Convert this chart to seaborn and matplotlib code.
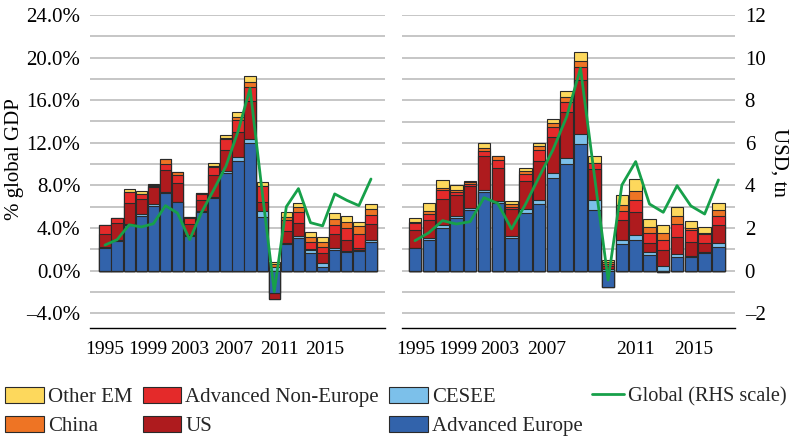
import numpy as np
import pandas as pd
import matplotlib
matplotlib.use('Agg')
import matplotlib.pyplot as plt
from matplotlib.patches import Patch
from matplotlib.lines import Line2D
from matplotlib.ticker import MultipleLocator, FuncFormatter
import seaborn as sns

# -------------------------------------------
# данные (1995-2017)
years = list(range(1995, 2018))

# левая панель, % мирового ВВП
adv_eu_pct = [2.16, 2.78, 4.32, 5.13, 6.1, 7.29, 6.41, 3.25, 5.48, 6.79, 9.14, 10.33,
              11.95, 5.0, -2.13, 2.5, 3.07, 1.63, 0.38, 1.94, 1.78, 1.85, 2.7]
cesee_pct = [0.05, 0.05, 0.1, 0.15, 0.15, 0.05, 0.05, 0.05, 0.15, 0.1, 0.2, 0.37,
             0.44, 0.63, 0.3, 0.1, 0.19, 0.31, 0.38, 0.22, 0.1, 0.1, 0.15]
us_pct = [1.2, 1.6, 1.94, 1.4, 1.56, 2.1, 1.78, 1.1, 0.97, 2.1, 2.0, 2.35,
          3.57, 0.85, -0.56, 1.16, 1.25, 0.1, 0.88, 1.25, 1.0, 0.2, 1.5]
adv_ne_pct = [0.85, 0.5, 1.0, 0.5, 0.15, 0.56, 0.78, 0.53, 0.6, 0.78, 1.0, 1.1,
              1.31, 1.47, 0.0, 1.0, 1.03, 0.63, 0.56, 0.88, 1.1, 1.3, 0.9]
china_pct = [0.05, 0.05, 0.05, 0.05, 0.1, 0.44, 0.2, 0.06, 0.12, 0.05, 0.1, 0.3,
             0.4, 0.0, 0.3, 0.25, 0.4, 0.53, 0.5, 0.53, 0.56, 0.75, 0.5]
other_em_pct = [0.0, 0.0, 0.25, 0.25, 0.1, 0.0, 0.0, 0.0, 0.0, 0.3, 0.3, 0.44,
                0.63, 0.38, 0.2, 0.5, 0.38, 0.47, 0.5, 0.63, 0.6, 0.4, 0.5]
global_pct = [2.4, 2.9, 4.3, 4.1, 4.4, 6.1, 5.4, 2.9, 5.5, 7.6, 9.8, 13.05,
              17.1, 7.4, -1.97, 6.0, 7.7, 4.5, 4.2, 7.2, 6.6, 6.1, 8.6]

# правая панель, трлн долл. США
adv_eu_usd = [1.05, 1.44, 1.99, 2.46, 2.85, 3.71, 3.19, 1.55, 2.72, 3.13, 4.33, 5.0,
              5.95, 2.85, -0.78, 1.24, 1.44, 0.74, -0.05, 0.66, 0.66, 0.81, 1.1]
cesee_usd = [0.03, 0.08, 0.16, 0.11, 0.09, 0.08, 0.08, 0.08, 0.16, 0.19, 0.27, 0.27,
             0.47, 0.47, 0.1, 0.2, 0.23, 0.16, 0.22, 0.11, 0.03, 0.05, 0.19]
us_usd = [0.83, 0.86, 1.2, 0.99, 1.05, 1.61, 1.56, 1.25, 1.35, 1.83, 1.69, 2.19,
          2.54, 1.44, 0.1, 0.94, 1.1, 0.39, 0.75, 0.83, 0.64, 0.42, 0.86]
adv_ne_usd = [0.31, 0.28, 0.44, 0.11, 0.08, 0.23, 0.36, 0.13, 0.3, 0.52, 0.44, 0.47,
              0.59, 0.28, 0.1, 0.42, 0.55, 0.47, 0.47, 0.58, 0.58, 0.44, 0.42]
china_usd = [0.05, 0.16, 0.08, 0.13, 0.08, 0.11, 0.2, 0.13, 0.14, 0.16, 0.19, 0.23,
             0.27, 0.03, 0.1, 0.28, 0.44, 0.28, 0.31, 0.39, 0.08, 0.06, 0.28]
other_em_usd = [0.22, 0.38, 0.39, 0.2, 0.06, 0.23, 0.0, 0.11, 0.14, 0.16, 0.19, 0.27,
                0.44, 0.33, 0.1, 0.47, 0.53, 0.39, 0.39, 0.44, 0.34, 0.25, 0.34]
global_usd = [1.41, 1.78, 2.35, 2.19, 2.3, 3.43, 3.16, 1.96, 3.1, 4.4, 5.67, 7.23,
              9.5, 4.5, -0.44, 4.02, 5.12, 3.13, 2.74, 3.99, 3.04, 2.66, 4.26]

# подписи и цвета (снизу вверх)
series_names = ['Advanced Europe', 'CESEE', 'US', 'Advanced Non-Europe', 'China', 'Other EM']
series_colors = ['#3263AB', '#7CC0EA', '#AE1B1E', '#E42A2A', '#EE7424', '#FDD85C']
line_name = 'Global (RHS scale)'
line_color = '#17A04A'
edge_color = '#2A2A2A'

tick_years = ['1995', '1999', '2003', '2007', '2011', '2015']

# -------------------------------------------
# оформление
sns.set_theme(style='white')
plt.rcParams['font.family'] = ['Liberation Serif', 'DejaVu Serif']
FS = 14


# функция для стековых столбиков (положительные и отрицательные отдельно)
def stacked_bars(ax, layers, width):
    vals = np.array(layers, dtype=float)
    idx = np.arange(vals.shape[1])
    pos = np.where(vals > 0, vals, 0).cumsum(axis=0)
    neg = np.where(vals < 0, vals, 0).cumsum(axis=0)
    # рисуем от верхнего слоя к нижнему, нижние перекрывают
    for k in reversed(range(vals.shape[0])):
        for cum in (pos, neg):
            df = pd.DataFrame({'pos': idx, 'h': cum[k]})
            sns.barplot(data=df, x='pos', y='h', native_scale=True, width=width,
                        color=series_colors[k], saturation=1, edgecolor=edge_color,
                        linewidth=0.8, errorbar=None, ax=ax)


def style_axis(ax, ylim, major, minor, label_pos):
    ax.set_ylim(*ylim)
    ax.yaxis.set_major_locator(MultipleLocator(major))
    ax.yaxis.set_minor_locator(MultipleLocator(minor))
    ax.grid(True, which='both', axis='y', color='#C2C2C2', lw=1.3)
    ax.grid(False, axis='x')
    ax.set_axisbelow(True)
    for s in ['left', 'right', 'top']:
        ax.spines[s].set_visible(False)
    ax.spines['bottom'].set_color('black')
    ax.spines['bottom'].set_linewidth(1.0)
    # метки делений на каждом 4-м году, подписи отдельно
    ax.xaxis.remove_overlapping_locs = False
    ax.set_xticks([0, 4, 8, 12, 16, 20], labels=[''] * 6)
    ax.set_xticks(label_pos, labels=tick_years, minor=True)
    ax.tick_params(axis='x', which='major', length=5, width=1, color='black', direction='out')
    ax.tick_params(axis='x', which='minor', length=0, pad=9, labelsize=FS, labelcolor='black')
    ax.tick_params(axis='y', which='both', length=0, labelsize=FS + 1, labelcolor='black')
    ax.set_xlabel('')
    ax.set_ylabel('')


fig = plt.figure(figsize=(7.93, 4.42), dpi=100)
W, H = 793, 442
ax1 = fig.add_axes([90 / W, 1 - 328 / H, 295 / W, 313 / H])
ax2 = fig.add_axes([402 / W, 1 - 328 / H, 333 / W, 313 / H])

# левая панель
stacked_bars(ax1, [adv_eu_pct, cesee_pct, us_pct, adv_ne_pct, china_pct, other_em_pct], 0.93)
sns.lineplot(x=np.arange(len(years)), y=global_pct, ax=ax1, color=line_color, lw=2, zorder=5)
style_axis(ax1, (-5.39, 24), 4, 2, [0, 3.5, 7.0, 10.65, 14.45, 18.2])
ax1.set_xlim(-1.24, 23.16)
ax1.yaxis.set_major_formatter(FuncFormatter(lambda v, p: f'{v:.1f}%'.replace('-', '\u2013')))
ax1.tick_params(axis='y', pad=7)
ax1.set_ylabel('% global GDP', fontsize=FS + 1, color='black')
ax1.yaxis.set_label_coords(-0.225, 0.54)

# правая панель
stacked_bars(ax2, [adv_eu_usd, cesee_usd, us_usd, adv_ne_usd, china_usd, other_em_usd], 0.9)
sns.lineplot(x=np.arange(len(years)), y=global_usd, ax=ax2, color=line_color, lw=2, zorder=5)
style_axis(ax2, (-2.69, 12), 2, 1, [0.05, 3.1, 6.15, 9.55, 16, 20.2])
ax2.set_xlim(-0.94, 23.2)
ax2.yaxis.tick_right()
ax2.yaxis.set_major_formatter(FuncFormatter(lambda v, p: f'{v:.0f}'.replace('-', '\u2013')))
ax2.tick_params(axis='y', pad=7)
ax2.yaxis.set_label_position('right')
ax2.set_ylabel('USD, tn', fontsize=FS + 1, color='black', rotation=270)
ax2.yaxis.set_label_coords(1.16, 0.53)

# легенда: столбики (3 колонки) и линия отдельно
handles = []
labels = []
for name in ['Other EM', 'China', 'Advanced Non-Europe', 'US', 'CESEE', 'Advanced Europe']:
    c = series_colors[series_names.index(name)]
    handles.append(Patch(facecolor=c, edgecolor=edge_color, linewidth=0.8))
    labels.append(name)

leg1 = fig.legend(handles, labels, loc='upper left', bbox_to_anchor=(5 / W, 1 - 387 / H),
                  ncol=3, frameon=False, fontsize=15, handlelength=1.85, handleheight=0.8,
                  handletextpad=0.2, columnspacing=0.5, labelspacing=0.42, borderaxespad=0,
                  borderpad=0)
fig.legend([Line2D([0], [0], color=line_color, lw=2)], [line_name], loc='upper left',
           bbox_to_anchor=(592 / W, 1 - 387 / H), frameon=False, fontsize=14.6,
           handlelength=1.6, handleheight=0.8, handletextpad=0.2, borderaxespad=0,
           borderpad=0)

fig.savefig('out.png', dpi=100)
